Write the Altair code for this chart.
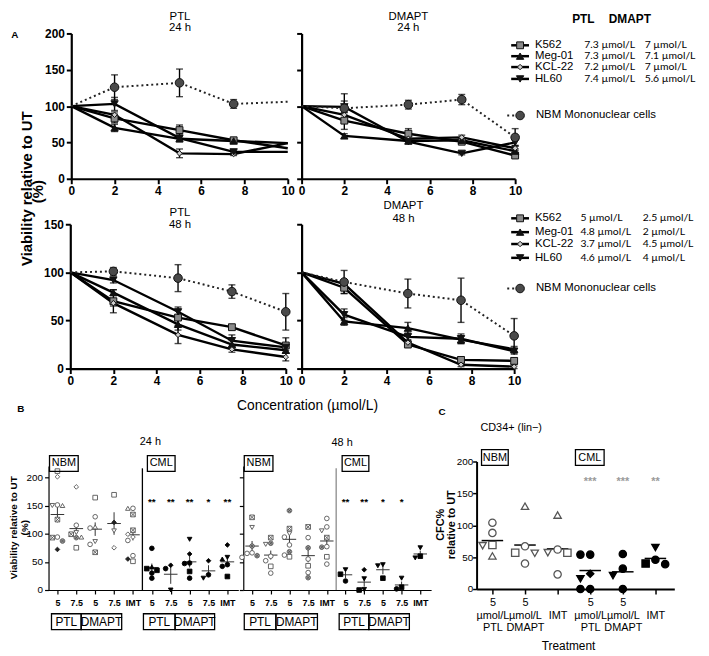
import json
import altair as alt
import pandas as pd

W, H = 701, 648
M = 8  # page margin
FONT = "Liberation Sans"

# ---------------- Panel A data ----------------
CONC = [0, 2, 5, 7.5, 10]
SERIES = ["K562", "Meg-01", "KCL-22", "HL60", "NBM Mononuclear cells"]
NBM = SERIES[-1]

PTL24 = [[100, 83, 67, 53, 42],
         [100, 70, 55, 52, 49],
         [100, 88, 35, 34, 49],
         [100, 103, 56, 37, 37],
         [100, 126, 132, 103, 106]]
PTL24_ERR = [[0, 6, 7, 3, 0],
             [0, 5, 4, 2, 0],
             [0, 4, 6, 2, 0],
             [0, 9, 3, 3, 0],
             [0, 17, 19, 6, 0]]
DMAPT24 = [[100, 80, 62, 51, 32],
           [100, 59, 52, 53, 38],
           [100, 88, 55, 57, 42],
           [100, 99, 51, 35, 50],
           [100, 97, 102, 109, 57]]
DMAPT24_ERR = [[0, 12, 7, 3, 3],
               [0, 3, 3, 3, 3],
               [0, 6, 4, 3, 3],
               [0, 8, 3, 2, 4],
               [0, 20, 6, 7, 12]]
PTL48 = [[100, 70, 53, 43, 24],
         [100, 79, 46, 25, 19],
         [100, 68, 35, 20, 12],
         [100, 92, 59, 29, 22],
         [100, 101, 94, 80, 59]]
PTL48_ERR = [[0, 12, 8, 2, 8],
             [0, 3, 6, 4, 3],
             [0, 3, 9, 3, 4],
             [0, 3, 5, 6, 3],
             [0, 4, 14, 7, 19]]
DMAPT48 = [[100, 84, 25, 9, 8],
           [100, 49, 42, 30, 20],
           [100, 88, 27, 4, 2],
           [100, 56, 33, 31, 18],
           [100, 90, 78, 71, 34]]
DMAPT48_ERR = [[0, 6, 3, 3, 3],
               [0, 4, 6, 4, 3],
               [0, 4, 3, 2, 2],
               [0, 6, 4, 5, 3],
               [0, 12, 15, 23, 18]]

IC50_24_PTL = ["7.3 µmol/L", "7.3 µmol/L", "7.2 µmol/L", "7.4 µmol/L"]
IC50_24_DMAPT = ["7 µmol/L", "7.1 µmol/L", "7 µmol/L", "5.6 µmol/L"]
IC50_48_PTL = ["5 µmol/L", "4.8 µmol/L", "3.7  µmol/L", "4.6 µmol/L"]
IC50_48_DMAPT = ["2.5 µmol/L", "2 µmol/L", "4.5 µmol/L", "4 µmol/L"]

# ---------------- Panel B data ----------------
B_CATS = ["5", "7.5", "5", "7.5", "IMT", "5", "7.5", "5", "7.5", "IMT"]
B24_VALS = [[201, 211, 150, 150, 151, 125, 93, 87, 94, 72],
            [183, 115, 102, 94, 99, 93, 75],
            [164, 130, 112, 110, 86, 81, 67],
            [169, 120, 105, 75],
            [145, 145, 134, 106, 99, 94, 88, 61, 51, 55],
            [74, 38, 35, 41, 30, 21],
            [44, 38, 0],
            [90, 64, 47, 48, 33, 21],
            [52, 21, 27],
            [80, 58, 55, 45, 42, 24]]
B24_MARKS = [["d", "s", "v", "^", "o", "sx", "sx", "ox", "o", "*"],
             ["d", "o", "v", "^", "sx", "ox", "s"],
             ["s", "o", "^", "o", "v", "o", "sx"],
             ["s", "*", "v", "d"],
             ["o", "^", "sx", "sx", "d", "d", "o", "o", "s", "*"],
             ["O", "S", "S", "A", "O", "O"],
             ["D", "O", "V"],
             ["V", "D", "O", "O", "S", "O"],
             ["D", "V", "O"],
             ["D", "V", "A", "O", "O", "S"]]
B24_MEAN = [134, 109, 108, 118, 98, 40, 28, 50, 34, 50]
B24_SEM = [14, 9, 12, 20, 10, 7, 17, 10, 10, 8]
B24_STARS = ["", "", "", "", "", "**", "**", "**", "*", "**"]

B48_VALS = [[129, 111, 78, 65, 61, 58, 66],
            [93, 83, 81, 52, 60, 42, 30],
            [141, 109, 100, 94, 80, 68, 59, 62],
            [112, 93, 75, 55, 43, 31, 22],
            [127, 112, 105, 93, 76, 77, 59, 46],
            [36, 28, 16],
            [36, 20, 0, 1],
            [45, 43, 21],
            [21, 2, 5],
            [75, 57, 60]]
B48_MARKS = [["sx", "v", "ox", "o", "ox", "o", "o"],
             ["sx", "ox", "v", "o", "o", "s", "o"],
             ["ox", "sx", "v", "o", "o", "ox", "s", "o"],
             ["sx", "o", "ox", "o", "s", "o", "ox"],
             ["o", "o", "v", "sx", "ox", "o", "s", "o"],
             ["V", "S", "O"],
             ["D", "V", "S", "V"],
             ["V", "V", "S"],
             ["V", "O", "S"],
             ["V", "V", "S"]]
B48_MEAN = [78, 62, 90, 61, 87, 27, 14, 36, 9, 64]
B48_SEM = [9, 8, 9, 12, 9, 6, 8, 8, 6, 6]
B48_STARS = ["", "", "", "", "", "**", "**", "*", "*", ""]

# ---------------- Panel C data ----------------
C_CATS = ["5 µmol/L PTL", "5 µmol/L DMAPT", "IMT", "5 µmol/L PTL", "5 µmol/L DMAPT", "IMT"]
C_VALS = [[104, 88, 69, 68, 52],
          [130, 67, 57, 56, 40],
          [116, 57, 57, 62, 23],
          [54, 54, 24, 16, 0, 0],
          [55, 32, 21, 0],
          [65, 46, 39, 40]]
C_MARKS = [["o", "o", "s", "v", "^"],
           ["^", "o", "s", "v", "o"],
           ["^", "v", "s", "o", "o"],
           ["O", "O", "D", "V", "O", "O"],
           ["O", "O", "V", "O"],
           ["V", "O", "O", "S"]]
C_MEAN = [76, 69, 63, 29, 27, 48]
C_STARS = ["", "", "", "***", "***", "**"]

# ---------------- styles ----------------
A_SHAPES = ["square", "triangle-up", "diamond", "triangle-down", "circle"]
A_FILLS = ["#8a8a8a", "#111111", "#d0d0d0", "#111111", "#4a4a4a"]
A_SIZES = {"K562": 48, "Meg-01": 55, "KCL-22": 30, "HL60": 55, NBM: 75}

SQX = "M-1,-1L1,-1L1,1L-1,1Z M-1,-1L1,1 M1,-1L-1,1"
OX = "M1,0A1,1,0,1,1,-1,0A1,1,0,1,1,1,0Z M-0.7,-0.7L0.7,0.7 M0.7,-0.7L-0.7,0.7"
MK_KEYS = ["o", "s", "^", "v", "d", "sx", "ox", "*", "O", "S", "V", "A", "D"]
MK_SHAPES = ["circle", "square", "triangle-up", "triangle-down", "diamond", SQX, OX,
             "diamond", "circle", "square", "triangle-down", "triangle-up", "diamond"]
MK_FILLS = ["white"] * 6 + ["#9a9a9a", "#222222"] + ["black"] * 5
MK_STROKES = ["#555555"] * 7 + ["#222222"] + ["black"] * 5


def axis(orient, offset, values, labels=True, size=12, weight="bold", tick=5,
         dw=2.2, tw=2, pad=2, **kw):
    d = dict(orient=orient, offset=offset, values=values, labels=labels, title=None,
             grid=False, labelFlush=False, labelOverlap=False, labelFont=FONT,
             labelFontSize=size, labelFontWeight=weight, labelColor="black",
             domainColor="black", domainWidth=dw, tickColor="black", tickWidth=tw,
             tickSize=tick, labelPadding=pad)
    d.update(kw)
    return alt.Axis(**d)


def swarm(values, px_per_unit, min_px, step):
    order = sorted(range(len(values)), key=lambda i: -values[i])
    offs = [0.0] * len(values)
    placed = []
    for i in order:
        chosen = 2
        for c in [0, -1, 1, -2, 2]:
            if all(not (pc == c and abs(values[i] - values[j]) * px_per_unit < min_px)
                   for j, pc in placed):
                chosen = c
                break
        placed.append((i, chosen))
        offs[i] = chosen * step
    return offs


def mk_enc():
    return dict(
        shape=alt.Shape("mk:N", scale=alt.Scale(domain=MK_KEYS, range=MK_SHAPES), legend=None),
        fill=alt.Fill("mk:N", scale=alt.Scale(domain=MK_KEYS, range=MK_FILLS), legend=None),
        stroke=alt.Stroke("mk:N", scale=alt.Scale(domain=MK_KEYS, range=MK_STROKES), legend=None),
    )


def panel_a(vals, errs, xr, yr, ydom, yvals, ylabels, marker_at_10):
    rows = []
    for s, v, e in zip(SERIES, vals, errs):
        for c, y, err in zip(CONC, v, e):
            rows.append(dict(series=s, conc=c, val=y, lo=y - err, hi=y + err, err=err,
                             marker=bool(c > 0 and (c < 10 or marker_at_10)),
                             sz=A_SIZES[s]))
    df = pd.DataFrame(rows)
    xsc = alt.Scale(domain=[0, 10], range=list(xr), nice=False, zero=False)
    ysc = alt.Scale(domain=list(ydom), range=list(yr), nice=False, zero=False)
    xax = axis("bottom", yr[0] - H, [0, 2, 4, 6, 8, 10])
    yax = axis("left", -xr[0], yvals, labels=ylabels)

    def X(f="conc"):
        return alt.X(f + ":Q", scale=xsc, axis=xax)

    def Y(f="val"):
        return alt.Y(f + ":Q", scale=ysc, axis=yax)

    base = alt.Chart(df)
    solid = base.transform_filter(alt.datum.series != NBM).mark_line(
        color="black", strokeWidth=2.4).encode(X(), Y(), detail="series:N")
    dotted = base.transform_filter(alt.datum.series == NBM).mark_line(
        color="#222222", strokeWidth=2, strokeDash=[2, 3]).encode(X(), Y())
    bars = base.transform_filter("datum.err > 0").mark_rule(
        color="black", strokeWidth=1.4).encode(X(), Y("lo"), alt.Y2("hi:Q"))
    caps = base.transform_filter("datum.err > 0").transform_fold(
        ["lo", "hi"], as_=["k", "cap"]).mark_tick(
        orient="horizontal", color="black", size=7, thickness=1.4).encode(X(), Y("cap"))
    pts = base.transform_filter("datum.marker").mark_point(
        filled=True, opacity=1, stroke="#111111", strokeWidth=1).encode(
        X(), Y(),
        shape=alt.Shape("series:N", scale=alt.Scale(domain=SERIES, range=A_SHAPES), legend=None),
        fill=alt.Fill("series:N", scale=alt.Scale(domain=SERIES, range=A_FILLS), legend=None),
        size=alt.Size("sz:Q", scale=None, legend=None))
    return alt.layer(solid, dotted, bars, caps, pts)


def panel_b(vals, marks, means, sems, stars, xr, ylabels, sep_color):
    pts = []
    for i, (vs, ms) in enumerate(zip(vals, marks)):
        for v, m, o in zip(vs, ms, swarm(vs, 0.57, 5.0, 0.27)):
            pts.append(dict(pos=i + o, val=v, mk=m))
    pdf = pd.DataFrame(pts)
    idx = list(range(len(means)))
    sdf = pd.DataFrame(dict(pos=idx, mean=means,
                            lo=[m - s for m, s in zip(means, sems)],
                            hi=[m + s for m, s in zip(means, sems)],
                            l=[i - 0.36 for i in idx], r=[i + 0.36 for i in idx],
                            star=stars))
    sep = pd.DataFrame(dict(pos=[4.5], y0=[0], y1=[216]))
    xsc = alt.Scale(domain=[-0.47, 9.58], range=list(xr), nice=False, zero=False)
    ysc = alt.Scale(domain=[0, 220], range=[585, 459.6], nice=False, zero=False)
    labexpr = json.dumps(B_CATS, ensure_ascii=False) + "[datum.value]"
    xax = axis("bottom", 585 - H, list(range(10)), size=9, weight="bold", tick=4,
               dw=1.2, tw=1.2, pad=5, labelExpr=labexpr)
    yax = axis("left", -xr[0], [0, 50, 100, 150, 200], labels=ylabels, size=10,
               weight="normal", tick=4, dw=1.2, tw=1.2, pad=2)

    def X(f="pos"):
        return alt.X(f + ":Q", scale=xsc, axis=xax)

    def Y(f="val"):
        return alt.Y(f + ":Q", scale=ysc, axis=yax)

    sepl = alt.Chart(sep).mark_rule(color=sep_color, strokeWidth=1.3).encode(
        X(), Y("y0"), alt.Y2("y1:Q"))
    meanl = alt.Chart(sdf).mark_rule(color="#333333", strokeWidth=1).encode(
        X("l"), alt.X2("r:Q"), Y("mean"))
    seml = alt.Chart(sdf).mark_rule(color="#333333", strokeWidth=1).encode(
        X(), Y("lo"), alt.Y2("hi:Q"))
    points = alt.Chart(pdf).mark_point(filled=True, opacity=1, size=22, strokeWidth=0.9).encode(
        X(), Y(), **mk_enc())
    st = alt.Chart(sdf).transform_filter("datum.star != ''").mark_text(
        font=FONT, fontSize=10, fontWeight="bold", color="black").encode(
        X(), y=alt.value(496), text="star:N")
    return alt.layer(sepl, meanl, seml, points, st)


def panel_c():
    pts = []
    for i, (vs, ms) in enumerate(zip(C_VALS, C_MARKS)):
        for v, m, o in zip(vs, ms, swarm(vs, 0.645, 9.0, 0.3)):
            pts.append(dict(pos=i + o, val=v, mk=m))
    pdf = pd.DataFrame(pts)
    idx = list(range(len(C_MEAN)))
    sdf = pd.DataFrame(dict(pos=idx, mean=C_MEAN, l=[i - 0.33 for i in idx],
                            r=[i + 0.33 for i in idx], star=C_STARS))
    lines = [["", "IMT"] if c == "IMT" else c.split(" ") for c in C_CATS]
    labexpr = json.dumps(lines, ensure_ascii=False) + "[datum.value]"
    xsc = alt.Scale(domain=[-0.485, 5.58], range=[474, 674], nice=False, zero=False)
    ysc = alt.Scale(domain=[0, 200], range=[584, 455], nice=False, zero=False)
    xax = axis("bottom", 584 - H, idx, size=11, weight="normal", tick=5, dw=2,
               tw=1.5, pad=3, labelExpr=labexpr, labelLineHeight=12.5)
    yax = axis("left", -474, [0, 50, 100, 150, 200], size=10, weight="normal",
               tick=4, dw=2, tw=1.5, pad=0)

    def X(f="pos"):
        return alt.X(f + ":Q", scale=xsc, axis=xax)

    def Y(f="val"):
        return alt.Y(f + ":Q", scale=ysc, axis=yax)

    meanl = alt.Chart(sdf).mark_rule(color="black", strokeWidth=1.5).encode(
        X("l"), alt.X2("r:Q"), Y("mean"))
    points = alt.Chart(pdf).mark_point(filled=True, opacity=1, size=55, strokeWidth=1.3).encode(
        X(), Y(), **mk_enc())
    st = alt.Chart(sdf).transform_filter("datum.star != ''").mark_text(
        font=FONT, fontSize=11, fontWeight="bold", color="#9a9a9a").encode(
        X(), y=alt.value(476), text="star:N")
    return alt.layer(meanl, points, st)


def texts(items, size, weight="normal", angle=0, align="center", font=FONT, color="black"):
    df = pd.DataFrame([dict(t=t, px=x - M, py=y - M) for t, x, y in items])
    return alt.Chart(df).mark_text(
        fontSize=size, fontWeight=weight, angle=angle, align=align, baseline="middle",
        font=font, color=color).encode(
        x=alt.X("px:Q", scale=None, axis=None), y=alt.Y("py:Q", scale=None, axis=None),
        text="t:N")


def boxes(items):
    df = pd.DataFrame([dict(x1=a - M, y1=b - M, x2=c - M, y2=d - M) for a, b, c, d in items])
    return alt.Chart(df).mark_rect(fillOpacity=0, stroke="black", strokeWidth=1.3).encode(
        x=alt.X("x1:Q", scale=None, axis=None), x2="x2:Q",
        y=alt.Y("y1:Q", scale=None, axis=None), y2="y2:Q")


def legend(rows_y, nbm_y, ptl, dm, ptl_x, dm_x):
    df = pd.DataFrame(dict(series=SERIES[:4], y=[y - M for y in rows_y],
                           x1=[517 - M] * 4, x2=[535 - M] * 4, mx=[526 - M] * 4,
                           sz=[A_SIZES[s] for s in SERIES[:4]]))
    nb = pd.DataFrame(dict(series=[NBM], y=[nbm_y - M], x1=[513 - M], x2=[531 - M],
                           mx=[526 - M], sz=[A_SIZES[NBM]]))

    def enc_pts(ch):
        return ch.mark_point(filled=True, opacity=1, stroke="#111111", strokeWidth=1).encode(
            x=alt.X("mx:Q", scale=None, axis=None), y=alt.Y("y:Q", scale=None, axis=None),
            shape=alt.Shape("series:N", scale=alt.Scale(domain=SERIES, range=A_SHAPES), legend=None),
            fill=alt.Fill("series:N", scale=alt.Scale(domain=SERIES, range=A_FILLS), legend=None),
            size=alt.Size("sz:Q", scale=None, legend=None))
    l1 = alt.Chart(df).mark_rule(color="black", strokeWidth=2.5).encode(
        x=alt.X("x1:Q", scale=None, axis=None), x2="x2:Q", y=alt.Y("y:Q", scale=None, axis=None))
    l2 = alt.Chart(nb).mark_rule(color="#222222", strokeWidth=2, strokeDash=[2, 3]).encode(
        x=alt.X("x1:Q", scale=None, axis=None), x2="x2:Q", y=alt.Y("y:Q", scale=None, axis=None))
    labs = texts([(s, 541, y) for s, y in zip(SERIES[:4], rows_y)] + [(NBM, 542, nbm_y)],
                 11.5, align="left")
    ic = texts([(t, ptl_x, y) for t, y in zip(ptl, rows_y)] +
               [(t, dm_x, y) for t, y in zip(dm, rows_y)], 10.5, align="left", font="Lato")
    return [l1, l2, enc_pts(alt.Chart(df)), enc_pts(alt.Chart(nb)), labs, ic]


layers = [
    panel_a(PTL24, PTL24_ERR, (64, 283), (169, 22), (0, 200), [0, 50, 100, 150, 200], True, False),
    panel_a(DMAPT24, DMAPT24_ERR, (297, 513), (169, 22), (0, 200), [0, 50, 100, 150, 200], False, True),
    panel_a(PTL48, PTL48_ERR, (63, 281), (361, 215), (0, 150), [0, 50, 100, 150], True, True),
    panel_a(DMAPT48, DMAPT48_ERR, (297, 512), (361, 215), (0, 150), [0, 50, 100, 150], False, True),
    panel_b(B24_VALS, B24_MARKS, B24_MEAN, B24_SEM, B24_STARS, (41, 233), True, "black"),
    panel_b(B48_VALS, B48_MARKS, B48_MEAN, B48_SEM, B48_STARS, (238, 428), False, "#8a8a8a"),
    panel_c(),
    boxes([(50, 457, 79, 473), (149, 457, 177, 473), (247, 457, 276, 473), (346, 457, 373, 473),
           (52, 617, 82, 633), (82, 617, 123, 633), (145, 617, 177, 633), (177, 617, 217, 633),
           (247, 617, 279, 633), (279, 617, 321, 633), (343, 617, 373, 633), (373, 617, 414, 633),
           (487, 451, 514, 467), (582, 451, 611, 467)]),
    texts([("PTL", 182, 13), ("24 h", 182, 24.5), ("DMAPT", 413, 13), ("24 h", 413, 24.5),
           ("PTL", 182, 212), ("48 h", 182, 224), ("DMAPT", 408, 205), ("48 h", 408, 218)], 11.5),
    texts([("A", 15, 32), ("B", 21, 410), ("C", 447, 413)], 10, weight="bold"),
    texts([("Viability relative to UT", 27, 187), ("(%)", 38, 190)], 15, weight="bold", angle=270),
    texts([("Concentration (µmol/L)", 311, 407)], 14),
    texts([("PTL", 590, 15), ("DMAPT", 637, 15)], 12, weight="bold"),
    texts([("24 h", 152, 443), ("48 h", 346, 444), ("CD34+ (lin\u2212)", 517, 429),
           ("NBM", 64.5, 465), ("CML", 163, 465), ("NBM", 261.5, 465), ("CML", 359.5, 465),
           ("NBM", 500.5, 459), ("CML", 596.5, 459)], 11),
    texts([("PTL", 67, 625), ("DMAPT", 102.5, 625), ("PTL", 161, 625), ("DMAPT", 197, 625),
           ("PTL", 263, 625), ("DMAPT", 300, 625), ("PTL", 358, 625), ("DMAPT", 393.5, 625),
           ("Treatment", 575, 650)], 12),
    texts([("Viability relative to UT", 14, 530), ("(%)", 25, 530)], 10, weight="bold", angle=270),
    texts([("CFC%", 446, 527), ("relative to UT", 457.5, 527)], 11, weight="bold", angle=270),
]
layers += legend([42, 53, 64, 76], 113, IC50_24_PTL, IC50_24_DMAPT, 591, 652)
layers += legend([217, 231, 243, 257], 288, IC50_48_PTL, IC50_48_DMAPT, 587, 650)

chart = alt.layer(*layers).resolve_scale(
    x="independent", y="independent", shape="independent", fill="independent",
    stroke="independent", size="independent"
).properties(
    width=W, height=H, padding=0, autosize=alt.AutoSizeParams(type="none")
).configure_view(stroke=None)

chart.save("out.html", embed_options={"renderer": "svg", "actions": False})
